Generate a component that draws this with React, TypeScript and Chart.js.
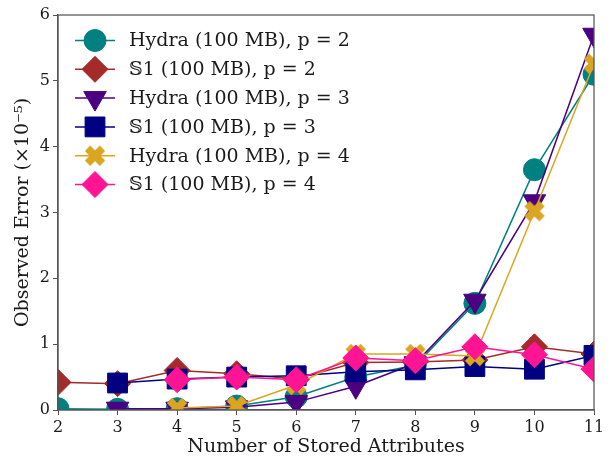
import React, { useEffect, useRef } from 'react';
import { Chart, registerables } from 'chart.js';
import { drawPoint } from 'chart.js/helpers';

Chart.register(...registerables);

const xValues = [2, 3, 4, 5, 6, 7, 8, 9, 10, 11];
const hydraP2 = [0.02, 0.01, 0.02, 0.06, 0.2, 0.5, 0.68, 1.62, 3.65, 5.1];
const s1P2 = [0.42, 0.4, 0.6, 0.55, 0.47, 0.72, 0.73, 0.76, 0.96, 0.85];
const hydraP3 = [null, 0.02, 0.02, 0.04, 0.12, 0.36, 0.71, 1.66, 3.17, 5.7];
const s1P3 = [null, 0.41, 0.47, 0.5, 0.52, 0.58, 0.61, 0.66, 0.62, 0.83];
const hydraP4 = [null, null, 0.03, 0.06, 0.38, 0.85, 0.85, 0.82, 3.02, 5.26];
const s1P4 = [null, null, 0.46, 0.5, 0.46, 0.79, 0.75, 0.96, 0.84, 0.62];

const seriesLabels = [
  'Hydra (100 MB), p = 2',
  '\u{1D54A}1 (100 MB), p = 2',
  'Hydra (100 MB), p = 3',
  '\u{1D54A}1 (100 MB), p = 3',
  'Hydra (100 MB), p = 4',
  '\u{1D54A}1 (100 MB), p = 4',
];
const seriesValues = [hydraP2, s1P2, hydraP3, s1P3, hydraP4, s1P4];
const seriesColors = ['#008080', '#a52a2a', '#4b0082', '#000080', '#daa520', '#ff1493'];
const xTicks = [2, 3, 4, 5, 6, 7, 8, 9, 10, 11];
const yTicks = [0, 1, 2, 3, 4, 5, 6];
const xTitle = 'Number of Stored Attributes';
const yTitle = 'Observed Error (\u00d710\u207b\u2075)';

const FONT = "'DejaVu Serif', serif";

function makeXMarker(color: string): HTMLCanvasElement {
  const c = document.createElement('canvas');
  c.width = 24;
  c.height = 24;
  const g = c.getContext('2d')!;
  g.strokeStyle = color;
  g.lineWidth = 7.5;
  g.lineCap = 'butt';
  g.beginPath();
  g.moveTo(4.5, 4.5);
  g.lineTo(19.5, 19.5);
  g.moveTo(19.5, 4.5);
  g.lineTo(4.5, 19.5);
  g.stroke();
  return c;
}

export default function App() {
  const ref = useRef<HTMLCanvasElement>(null);

  useEffect(() => {
    document.body.style.margin = '0';
    const xMarker = makeXMarker(seriesColors[4]);
    const markerStyles: any[] = [
      { pointStyle: 'circle', radius: 11, rotation: 0 },
      { pointStyle: 'rectRot', radius: 13, rotation: 0 },
      { pointStyle: 'triangle', radius: 13, rotation: 180 },
      { pointStyle: 'rect', radius: 14, rotation: 0 },
      { pointStyle: xMarker, radius: 12, rotation: 0 },
      { pointStyle: 'rectRot', radius: 13, rotation: 0 },
    ];

    const datasets = seriesValues.map((vals, i) => ({
      label: seriesLabels[i],
      data: xValues.map((x, j) => ({ x, y: vals[j] })),
      borderColor: seriesColors[i],
      backgroundColor: seriesColors[i],
      borderWidth: 1.5,
      pointStyle: markerStyles[i].pointStyle,
      pointRadius: markerStyles[i].radius,
      pointRotation: markerStyles[i].rotation,
      pointBorderWidth: 1,
      pointBorderColor: seriesColors[i],
      pointBackgroundColor: seriesColors[i],
      order: seriesValues.length - i,
      clip: 0,
      tension: 0,
    }));

    const framePlugin = {
      id: 'frame',
      afterDatasetsDraw(chart: any) {
        const { ctx, chartArea: a } = chart;
        ctx.save();
        ctx.strokeStyle = '#555555';
        ctx.lineWidth = 1.25;
        ctx.strokeRect(a.left, a.top, a.right - a.left, a.bottom - a.top);
        ctx.restore();
      },
    };

    const legendPlugin = {
      id: 'customLegend',
      afterDraw(chart: any) {
        const ctx = chart.ctx;
        const a = chart.chartArea;
        ctx.save();
        const startY = a.top + 25.5;
        const rowH = 28.8;
        seriesLabels.forEach((label, i) => {
          const y = startY + i * rowH;
          const color = seriesColors[i];
          ctx.strokeStyle = color;
          ctx.lineWidth = 1.5;
          ctx.beginPath();
          ctx.moveTo(a.left + 17, y);
          ctx.lineTo(a.left + 57, y);
          ctx.stroke();
          ctx.fillStyle = color;
          ctx.strokeStyle = color;
          ctx.lineWidth = 1;
          drawPoint(ctx, {
            pointStyle: markerStyles[i].pointStyle,
            radius: markerStyles[i].radius,
            rotation: markerStyles[i].rotation,
            borderWidth: 1,
          } as any, a.left + 37, y);
          ctx.fillStyle = '#1a1a1a';
          ctx.font = `19px ${FONT}`;
          ctx.textBaseline = 'middle';
          ctx.textAlign = 'left';
          ctx.fillText(label, a.left + 71, y + 1);
        });
        ctx.restore();
      },
    };

    const chart = new Chart(ref.current!, {
      type: 'line',
      data: { datasets },
      options: {
        animation: false,
        responsive: false,
        devicePixelRatio: 1,
        layout: { padding: { top: 14, right: 15, left: 0, bottom: 0 } },
        plugins: { legend: { display: false }, tooltip: { enabled: false } },
        scales: {
          x: {
            type: 'linear',
            min: 2,
            max: 11,
            afterFit: (s: any) => { s.height = 50; },
            afterBuildTicks: (s: any) => { s.ticks = xTicks.map((v) => ({ value: v })); },
            grid: { drawOnChartArea: false, drawTicks: true, tickLength: 5, color: '#555555', lineWidth: 1 },
            border: { display: true, color: '#555555', width: 1.25 },
            ticks: { color: '#1a1a1a', font: { family: FONT, size: 16 }, padding: 3, maxRotation: 0, autoSkip: false },
            title: { display: true, text: xTitle, color: '#1a1a1a', font: { family: FONT, size: 19 }, padding: { top: 0, bottom: 2 } },
          },
          y: {
            type: 'linear',
            min: 0,
            max: 6,
            afterFit: (s: any) => { s.width = 58; },
            afterBuildTicks: (s: any) => { s.ticks = yTicks.map((v) => ({ value: v })); },
            grid: { drawOnChartArea: false, drawTicks: true, tickLength: 5, color: '#555555', lineWidth: 1 },
            border: { display: true, color: '#555555', width: 1.25 },
            ticks: { color: '#1a1a1a', font: { family: FONT, size: 16 }, padding: 3 },
            title: { display: true, text: yTitle, color: '#1a1a1a', font: { family: FONT, size: 19 }, padding: { top: 12, bottom: 0 } },
          },
        },
      },
      plugins: [framePlugin, legendPlugin],
    });
    return () => chart.destroy();
  }, []);

  return (
    <div style={{ width: 609, height: 460 }}>
      <canvas ref={ref} width={609} height={460} style={{ display: 'block' }} />
    </div>
  );
}
